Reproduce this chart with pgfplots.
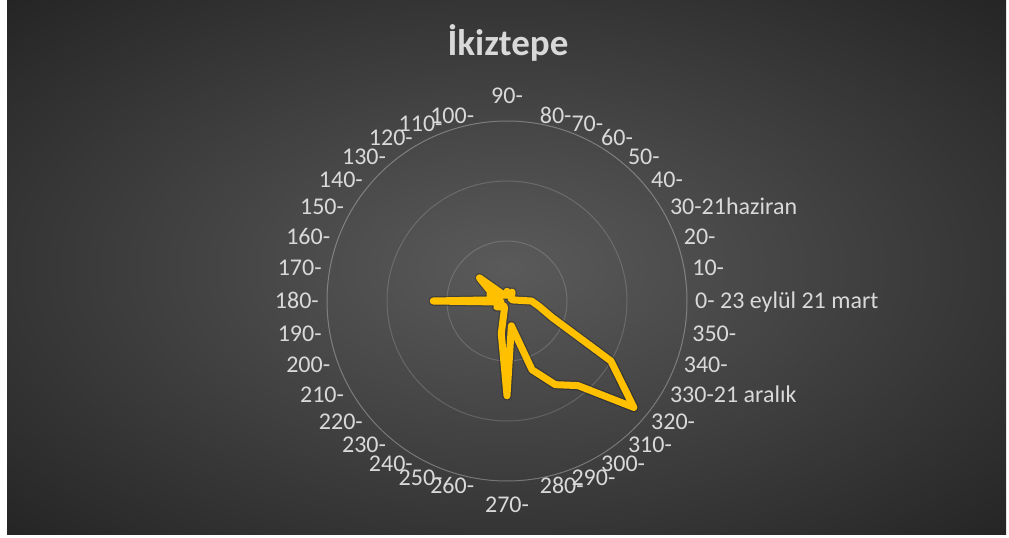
\documentclass[border=0pt]{standalone}
\usepackage{pgfplots}
\pgfplotsset{compat=1.18}
\usepgfplotslibrary{polar}
\usepackage{fontspec}
\setmainfont{Carlito}
\definecolor{bgin}{RGB}{90,90,90}
\definecolor{bgmid}{RGB}{78,78,78}
\definecolor{bgout}{RGB}{36,36,36}
\definecolor{txt}{RGB}{217,217,217}
\definecolor{gold}{RGB}{255,192,0}
\pgfdeclareradialshading{bgshade}{\pgfpoint{0bp}{0bp}}{color(0bp)=(bgin); color(8bp)=(bgmid); color(36bp)=(bgout); color(50bp)=(bgout)}
\begin{document}
\begin{tikzpicture}
\fill[white] (0,0) rectangle (1009bp,538bp);
\fill[shading=bgshade] (7bp,3bp) rectangle (1006bp,538bp);
\node[anchor=base, text=txt, font=\fontsize{37bp}{44bp}\selectfont\bfseries] at (508bp,482bp) {İkiztepe};
\begin{polaraxis}[
  at={(507bp,237bp)}, anchor=center,
  scale only axis, width=360bp, height=360bp,
  ymin=0, ymax=3, xmin=0, xmax=360,
  xtick={0,10,...,350}, xticklabels={},
  ytick={1,2,3}, yticklabels={},
  xmajorgrids=false, ymajorgrids=true,
  major grid style={draw=white, draw opacity=0.16, line width=1bp},
  separate axis lines,
  x axis line style={draw=white, draw opacity=0.16, line width=1bp},
  y axis line style={draw=none},
  tick style={draw=none},
  clip=false,
]
\addplot[draw=black, draw opacity=0.25, line width=9.5bp, line join=round, line cap=round, mark=none] coordinates {
(0,0.41) (10,0.1) (20,0.08) (30,0.08) (40,0.1) (50,0.12) (60,0.17) (70,0.1) (80,0.1)
(90,0.16) (100,0.1) (110,0.1) (120,0.12) (130,0.2) (140,0.6) (150,0.32) (160,0.3) (170,0.12)
(180,1.23) (190,0.1) (200,0.15) (210,0.2) (220,0.15) (230,0.1) (240,0.1) (250,0.12) (260,0.55)
(270,1.58) (280,0.42) (290,1.22) (300,1.61) (310,1.84) (320,2.76) (330,2.0) (340,0.8) (350,0.55) (360,0.41)
};
\addplot[draw=gold, line width=7bp, line join=round, line cap=round, mark=none] coordinates {
(0,0.41) (10,0.1) (20,0.08) (30,0.08) (40,0.1) (50,0.12) (60,0.17) (70,0.1) (80,0.1)
(90,0.16) (100,0.1) (110,0.1) (120,0.12) (130,0.2) (140,0.6) (150,0.32) (160,0.3) (170,0.12)
(180,1.23) (190,0.1) (200,0.15) (210,0.2) (220,0.15) (230,0.1) (240,0.1) (250,0.12) (260,0.55)
(270,1.58) (280,0.42) (290,1.22) (300,1.61) (310,1.84) (320,2.76) (330,2.0) (340,0.8) (350,0.55) (360,0.41)
};
\end{polaraxis}
\begin{scope}[every node/.style={text=txt, inner sep=0pt, text height=15.1bp, text depth=0bp, font=\fontsize{24bp}{28bp}\selectfont}]
\node[anchor=west] at ([shift={(0:188bp)}]507bp,237bp) {0- 23 eylül 21 mart};
\foreach \a in {10,20,40,50,60,70,80,280,290,300,310,320,340,350}
  \node[anchor=west] at ([shift={(\a:188bp)}]507bp,237bp) {\a-};
\node[anchor=west] at ([shift={(30:188bp)}]507bp,237bp) {30-21haziran};
\node[anchor=west] at ([shift={(330:188bp)}]507bp,237bp) {330-21 aralık};
\node[anchor=south] at ([shift={(90:197bp)}]507bp,237bp) {90-};
\node[anchor=north] at ([shift={(270:196bp)}]507bp,237bp) {270-};
\foreach \a in {100,110,...,260}
  \node[anchor=east] at ([shift={(\a:188bp)}]507bp,237bp) {\a-};
\end{scope}
\pgfresetboundingbox
\path[use as bounding box] (0,0) rectangle (1009bp,538bp);
\end{tikzpicture}
\end{document}
